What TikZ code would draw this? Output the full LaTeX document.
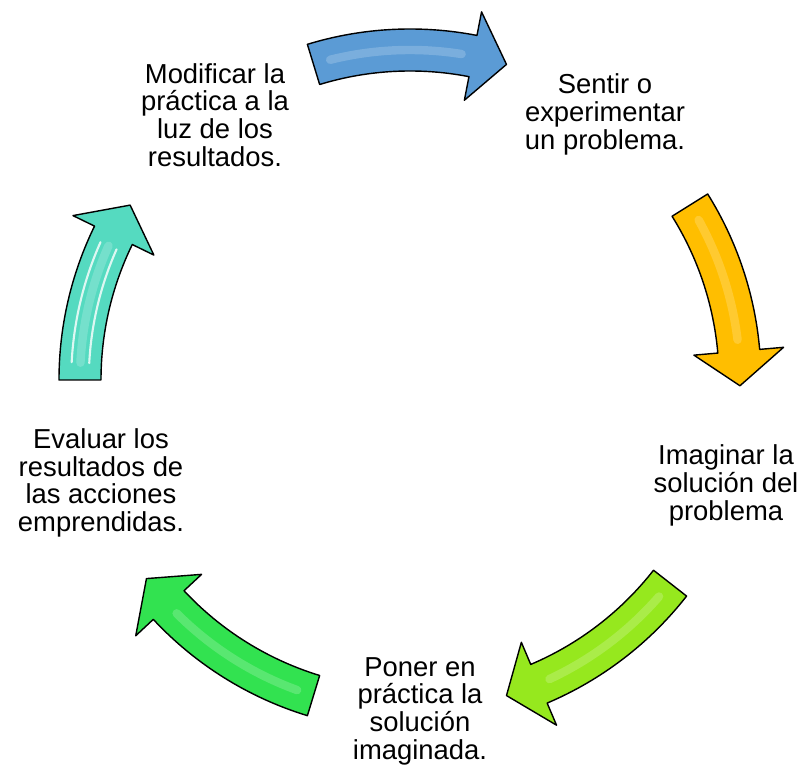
\documentclass[tikz,border=0pt]{standalone}
\usepackage{fontspec}
\setmainfont{Liberation Sans}
\usetikzlibrary{calc}

\definecolor{cycblue}{RGB}{91,155,213}
\definecolor{cycgold}{RGB}{255,190,0}
\definecolor{cyclime}{RGB}{150,232,30}
\definecolor{cycgreen}{RGB}{50,226,80}
\definecolor{cycteal}{RGB}{85,218,192}

\begin{document}
\begin{tikzpicture}[
  stage/.style = {align=center, inner sep=0pt, font=\fontsize{19.5}{19.7}\selectfont},
  bendarrow/.style = {draw=black, line width=1pt, line join=round},
  shine/.style = {line width=6pt, line cap=round, opacity=0.35},
  gleam/.style = {white, line width=1.5pt, line cap=round, opacity=0.8}
]

% Parameters
\def\R{8.25}
\def\w{0.525}
\def\W{1.125}
\def\h{6}

% Curved arrow: colour, start angle, end angle (clockwise)
\def\cyclearrow#1#2#3{
  \filldraw[bendarrow, fill=#1] ($(cen)+(#2:\R+\w)$)
    arc[start angle=#2, end angle={#3+\h}, radius=\R+\w]
    -- ($(cen)+({#3+\h}:\R+\W)$) -- ($(cen)+(#3:\R)$) -- ($(cen)+({#3+\h}:\R-\W)$)
    -- ($(cen)+({#3+\h}:\R-\w)$)
    arc[start angle={#3+\h}, end angle=#2, radius=\R-\w] -- cycle;
  \draw[shine, #1!45!white] ($(cen)+({#2-3}:\R)$)
    arc[start angle={#2-3}, end angle={#3+\h+2}, radius=\R];
}

\useasboundingbox (0,0) rectangle (20.05,19.2);

% Centre of the cycle
\coordinate (cen) at (10.25,9.7);

% Stages
\node[stage] (sentir)   at (15.125,16.34) {Sentir o\\experimentar\\un problema.};
\node[stage] (imaginar) at (18.15,7.06)   {Imaginar la\\soluci\'on del\\problema};
\node[stage] (poner)    at (10.5,1.42)    {Poner en\\pr\'actica la\\soluci\'on\\imaginada.};
\node[stage] (evaluar)  at (2.525,7.13)   {Evaluar los\\resultados de\\las acciones\\emprendidas.};
\node[stage] (modif)    at (5.375,16.33)  {Modificar la\\pr\'actica a la\\luz de los\\resultados.};

% Arrows round the circle
\cyclearrow{cycblue}{107}{73}
\cyclearrow{cycgold}{32}{-1}
\cyclearrow{cyclime}{-38}{-73}
\cyclearrow{cycgreen}{-107}{-143}
\cyclearrow{cycteal}{180}{148}

% Highlights on the teal arrow
\draw[gleam] ($(cen)+(177:\R+0.22)$) arc[start angle=177, end angle=156, radius=\R+0.22];
\draw[gleam] ($(cen)+(177:\R-0.22)$) arc[start angle=177, end angle=156, radius=\R-0.22];

\end{tikzpicture}
\end{document}
